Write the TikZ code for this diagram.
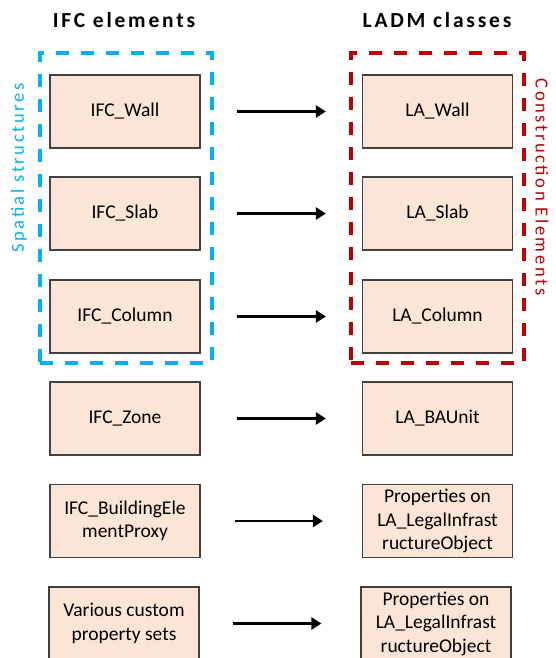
\documentclass[tikz,border=0pt]{standalone}
\usepackage{fontspec}
\setmainfont{Carlito}
\usetikzlibrary{arrows.meta}
\definecolor{peach}{HTML}{FBE5D6}
\definecolor{spatialblue}{HTML}{00B0F0}
\definecolor{constred}{HTML}{C00000}

\begin{document}
\begin{tikzpicture}[x=1pt,y=-1pt,every node/.style={rectangle, inner sep=2pt},
  box/.style={draw=black!75, line width=1.2pt, fill=peach, minimum width=150pt, minimum height=73pt, align=center, font=\fontsize{19.5}{23.5}\selectfont},
  frame/.style={line width=3.3pt, dash pattern=on 13pt off 12pt, minimum height=310pt},
  maps/.style={-{Triangle[length=10pt,width=12pt]}, line width=2.8pt, shorten <=36pt, shorten >=36pt}]

\useasboundingbox (0,0) rectangle (555,658);

\node (ifctitle) at (124,20) {\fontsize{21.5}{26}\selectfont\addfontfeatures{LetterSpace=13}\bfseries IFC elements};
\node (ladmtitle) at (437,20) {\fontsize{21.5}{26}\selectfont\addfontfeatures{LetterSpace=13}\bfseries LADM classes};

% dashed groups
\node[frame, draw=spatialblue, minimum width=172pt] (spatial) at (126,208) {};
\node[frame, draw=constred, minimum width=173pt] (construction) at (437.5,208) {};
\node[rotate=90, text=spatialblue] (spatiallabel) at (19,168) {\fontsize{18.5}{22}\selectfont\addfontfeatures{LetterSpace=14}Spatial structures};
\node[rotate=-90, text=constred] (constlabel) at (542,187) {\fontsize{18.5}{22}\selectfont\addfontfeatures{LetterSpace=14}Construction Elements};

\node[box] (ifcwall) at (125,111.5) {IFC\_Wall};
\node[box] (ifcslab) at (125,213.5) {IFC\_Slab};
\node[box] (ifccolumn) at (125,316.5) {IFC\_Column};
\node[box] (ifczone) at (125,418.5) {IFC\_Zone};
\node[box] (ifcproxy) at (125,521) {IFC\_BuildingEle\\mentProxy};
\node[box] (ifccustom) at (124,623.5) {Various custom\\property sets};

\node[box] (lawall) at (437.5,111.5) {LA\_Wall};
\node[box] (laslab) at (437.5,213.5) {LA\_Slab};
\node[box] (lacolumn) at (437.5,316.5) {LA\_Column};
\node[box] (labaunit) at (437.5,418.5) {LA\_BAUnit};
\node[box] (laproxy) at (437.5,521) {Properties on\\LA\_LegalInfrast\\ructureObject};
\node[box] (lacustom) at (436,623.5) {Properties on\\LA\_LegalInfrast\\ructureObject};

\path[maps] (ifcwall) edge (lawall);
\path[maps] (ifcslab) edge (laslab);
\path[maps] (ifccolumn) edge (lacolumn);
\path[maps] (ifczone) edge (labaunit);
\path[maps, shorten <=34pt, shorten >=39pt] (ifcproxy) edge (laproxy);
\path[maps, shorten <=33pt, shorten >=39pt] (ifccustom) edge (lacustom);
\end{tikzpicture}
\end{document}
